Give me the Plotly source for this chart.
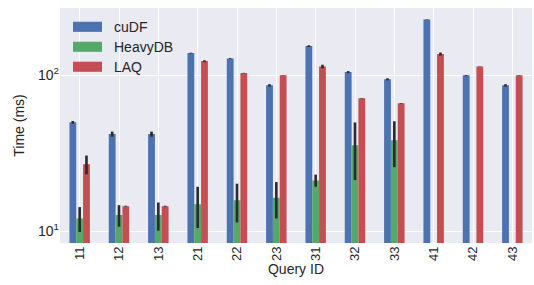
import plotly.graph_objects as go

queries = ["11", "12", "13", "21", "22", "23", "31", "32", "33", "41", "42", "43"]
cudf = [50, 42, 42, 139, 128.5, 86.3, 154, 105, 94.3, 228, 100, 86.3]
cudf_err = [1.0, 1.6, 1.6, 0.8, 0.8, 1.5, 2.0, 1.5, 1.5, 0.8, 0.6, 1.5]
heavydb = [12.1, 12.7, 12.7, 14.9, 15.8, 16.4, 21.2, 35.6, 38.3, None, None, None]
heavydb_err = [2.2, 2.0, 2.6, 4.4, 4.4, 4.3, 1.9, 14.3, 12.5, 0, 0, 0]
laq = [26.9, 14.5, 14.5, 123.5, 103.5, 100, 114, 71.3, 66.2, 137, 114, 100]
laq_err = [3.7, 0.1, 0.1, 1.5, 0.3, 0.3, 3.0, 0.3, 0.3, 3.0, 0.3, 0.3]
ytick_vals = [10, 100]
ytick_text = ["10<sup>1</sup>", "10<sup>2</sup>"]

series = [
    ("cuDF", cudf, cudf_err, "#4C72B0"),
    ("HeavyDB", heavydb, heavydb_err, "#55A868"),
    ("LAQ", laq, laq_err, "#C44E52"),
]

TXT = "#262626"
FONT = "Liberation Sans, Arial, sans-serif"

fig = go.Figure()
for name, vals, err, col in series:
    fig.add_trace(go.Bar(
        x=queries, y=vals, name=name, marker=dict(color=col, line=dict(width=0)),
        error_y=dict(type="data", array=err, visible=True, color="#2a2a2a",
                     thickness=2.6, width=0),
        showlegend=False,
    ))

# legend drawn manually (large seaborn-style swatches)
leg_y = [0.92, 0.835, 0.75]
for i, (name, vals, err, col) in enumerate(series):
    fig.add_shape(type="rect", xref="paper", yref="paper",
                  x0=0.0275, x1=0.089, y0=leg_y[i] - 0.0215, y1=leg_y[i] + 0.0215,
                  fillcolor=col, line=dict(width=0))
    fig.add_annotation(text=name, xref="paper", yref="paper", x=0.11, y=leg_y[i],
                       xanchor="left", yanchor="middle", showarrow=False,
                       font=dict(size=14, color=TXT, family=FONT))

fig.update_layout(
    width=534, height=285,
    margin=dict(l=60, r=2, t=8, b=42),
    paper_bgcolor="white", plot_bgcolor="#EAEAF2",
    barmode="group", bargap=0.48, bargroupgap=0,
    font=dict(family=FONT, color=TXT, size=13),
)
fig.update_xaxes(
    type="category", tickangle=-90, showgrid=True, gridcolor="white", gridwidth=1,
    ticks="", tickfont=dict(size=13, color=TXT), zeroline=False, automargin=False,
    title=dict(text="Query ID", font=dict(size=14, color=TXT), standoff=2),
)
fig.update_yaxes(
    type="log", range=[0.925, 2.432], tickvals=ytick_vals, ticktext=ytick_text,
    showgrid=True, gridcolor="white", gridwidth=1, ticks="", zeroline=False,
    tickfont=dict(size=14, color=TXT), automargin=False,
    title=dict(text="Time (ms)", font=dict(size=14, color=TXT), standoff=10),
)

fig.write_html(
    "out.html",
    config={"displayModeBar": False},
    post_script="document.body.style.margin='0';document.body.style.padding='0';",
)
